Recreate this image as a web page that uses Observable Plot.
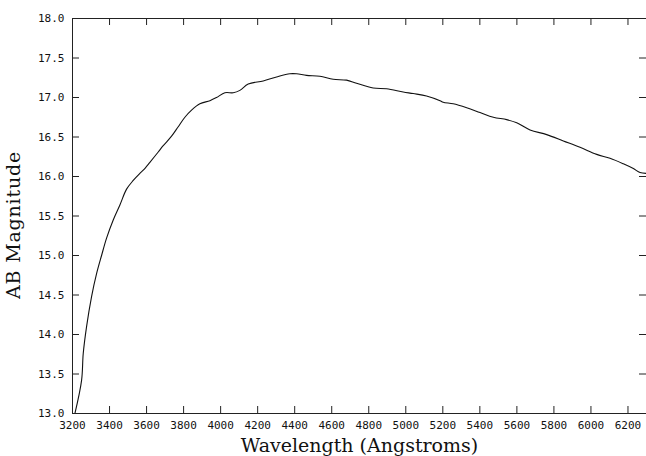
<!DOCTYPE html>
<html>
<head>
<meta charset="utf-8">
<script src="https://cdn.jsdelivr.net/npm/d3@7"></script>
<script src="https://cdn.jsdelivr.net/npm/@observablehq/plot@0.6"></script>
<style>
  html, body { margin: 0; padding: 0; background: #fff; }
  #chart svg { display: block; }
</style>
</head>
<body>
<div id="chart"></div>
<script>
const wavelengths = [3213, 3249, 3258, 3276, 3303, 3330, 3357, 3384, 3420, 3456, 3492, 3528, 3564, 3582, 3618, 3663, 3690, 3735, 3771, 3807, 3843, 3888, 3942, 3978, 4023, 4068, 4104, 4149, 4230, 4302, 4374, 4410, 4464, 4536, 4608, 4680, 4734, 4824, 4896, 4986, 5040, 5112, 5185, 5202, 5256, 5329, 5401, 5473, 5545, 5599, 5671, 5761, 5851, 5941, 6031, 6103, 6175, 6229, 6265, 6300];
const magnitudes  = [13.00, 13.42, 13.76, 14.10, 14.48, 14.77, 15.00, 15.22, 15.45, 15.64, 15.84, 15.95, 16.04, 16.08, 16.18, 16.31, 16.39, 16.51, 16.63, 16.75, 16.84, 16.92, 16.96, 17.00, 17.06, 17.06, 17.09, 17.17, 17.21, 17.26, 17.30, 17.30, 17.28, 17.27, 17.23, 17.22, 17.18, 17.12, 17.11, 17.07, 17.05, 17.02, 16.96, 16.94, 16.92, 16.87, 16.81, 16.75, 16.72, 16.68, 16.59, 16.53, 16.45, 16.37, 16.28, 16.23, 16.16, 16.10, 16.05, 16.04];
const xTicks = [3200, 3400, 3600, 3800, 4000, 4200, 4400, 4600, 4800, 5000, 5200, 5400, 5600, 5800, 6000, 6200];
const yTicks = [13.0, 13.5, 14.0, 14.5, 15.0, 15.5, 16.0, 16.5, 17.0, 17.5, 18.0];
const xDomain = [3200, 6300];
const yDomain = [13, 18];
const xTitle = "Wavelength (Angstroms)";
const yTitle = "AB Magnitude";

const W = 646, H = 456;
const mL = 72, mR = 0, mT = 18, mB = 43;
const plotW = W - mL - mR, plotH = H - mT - mB;
const tick = 7;

const data = wavelengths.map((w, i) => ({w, m: magnitudes[i]}));

const chart = Plot.plot({
  width: W,
  height: H,
  marginLeft: mL,
  marginRight: mR,
  marginTop: mT,
  marginBottom: mB,
  style: {background: "#fff", color: "#000", fontFamily: "'DejaVu Sans Mono', monospace"},
  x: {domain: xDomain, ticks: xTicks},
  y: {domain: yDomain, ticks: yTicks},
  marks: [
    Plot.line(data, {x: "w", y: "m", stroke: "#111", strokeWidth: 1.1, curve: "catmull-rom", clip: true}),
    // frame lines
    Plot.ruleX([xDomain[0]], {stroke: "#222"}),
    Plot.ruleY(yDomain, {stroke: "#222"}),
    // inward ticks
    Plot.ruleX(xTicks, {stroke: "#222", insetTop: plotH - tick}),
    Plot.ruleX(xTicks, {stroke: "#222", insetBottom: plotH - tick}),
    Plot.ruleY(yTicks, {stroke: "#222", insetRight: plotW - tick}),
    Plot.ruleY(yTicks, {stroke: "#222", insetLeft: plotW - tick}),
    Plot.axisX(xTicks, {tickSize: 0, tickPadding: 8, fontSize: 11, label: null, tickFormat: d => String(d), fill: "#111"}),
    Plot.axisY(yTicks, {tickSize: 0, tickPadding: 8, fontSize: 11, label: null, tickFormat: d => d.toFixed(1), fill: "#111"}),
    Plot.text([xTitle], {frameAnchor: "bottom", dy: 38, fontSize: 19, fontFamily: "'DejaVu Serif', serif", fill: "#111", lineAnchor: "bottom", textAnchor: "middle"}),
    Plot.text([yTitle], {frameAnchor: "left", dx: -53, dy: 9, rotate: -90, fontSize: 19, fontFamily: "'DejaVu Serif', serif", fill: "#111", lineAnchor: "bottom", textAnchor: "middle"})
  ]
});
chart.querySelectorAll("text").forEach(t => {
  if (t.textContent === yTitle) t.setAttribute("letter-spacing", "0.8");
});
document.getElementById("chart").appendChild(chart);
</script>
</body>
</html>
